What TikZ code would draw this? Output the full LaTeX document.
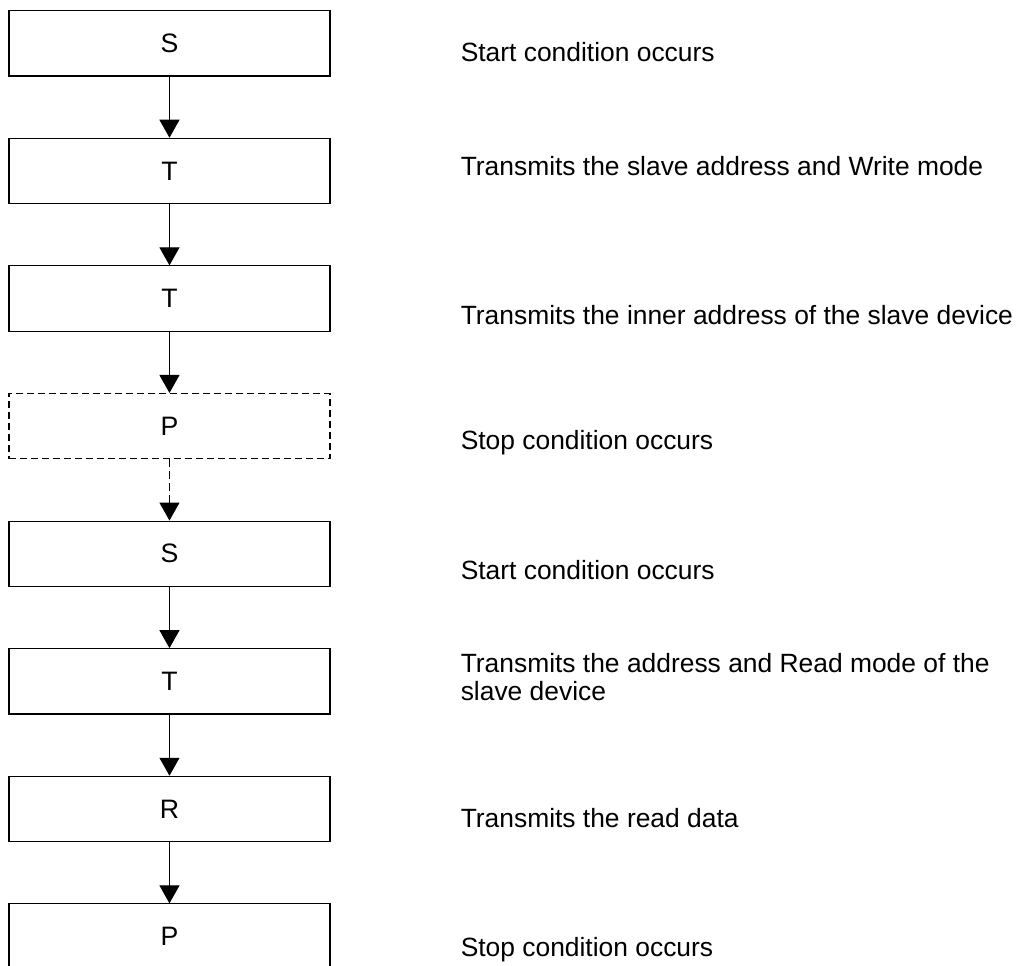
\documentclass[tikz,border=0pt]{standalone}
\usepackage{fontspec}
\setmainfont{Liberation Sans}
\usepackage{tikz}
\usetikzlibrary{arrows.meta, positioning}
\definecolor{seqline}{HTML}{000000}
\definecolor{seqfill}{HTML}{FFFFFF}
\tikzset{
  seqbox/.style  = {font=\fontsize{20pt}{20pt}\selectfont, align=center,
                    draw=seqline, fill=seqfill, line width=0.8pt,
                    minimum height=49pt, minimum width=240.75pt, inner sep=0pt},
  seqopt/.style  = {seqbox, dash pattern=on 5.25pt off 3pt},
  seqnote/.style = {font=\fontsize{19.8pt}{21pt}\selectfont, align=left,
                    inner sep=0pt, anchor=base west},
  flow/.style    = {-{Triangle[length=13.5pt, width=15pt]}, line width=0.8pt, draw=seqline},
  flowopt/.style = {flow, dash pattern=on 6pt off 3pt},
}
\begin{document}
\begin{tikzpicture}[node distance=45.9pt]
        \useasboundingbox (0,0) rectangle (765pt,-723.75pt);
        \node[seqbox] (start1) at (127.1pt,-32.5pt) {S};
        \node[seqbox, below=of start1] (addr1) {T};
        \node[seqbox, below=of addr1]  (inner) {T};
        \node[seqopt, below=of inner]  (stop1) {P};
        \node[seqbox, below=of stop1]  (start2) {S};
        \node[seqbox, below=of start2] (addr2) {T};
        \node[seqbox, below=of addr2]  (read)  {R};
        \node[seqbox, below=of read]   (stop2) {P};
        % descriptions
        \node[seqnote] (nstart1) at ([shift={(97.5pt,-13.3pt)}]start1.east) {Start condition occurs};
        \node[seqnote] (naddr1)  at ([shift={(97.5pt,-3.5pt)}]addr1.east)   {Transmits the slave address and Write mode};
        \node[seqnote] (ninner)  at ([shift={(97.5pt,-19.8pt)}]inner.east)  {Transmits the inner address of the slave device};
        \node[seqnote] (nstop1)  at ([shift={(97.5pt,-17.6pt)}]stop1.east)  {Stop condition occurs};
        \node[seqnote] (nstart2) at ([shift={(97.5pt,-19.3pt)}]start2.east) {Start condition occurs};
        \node[seqnote] (naddr2)  at ([shift={(97.5pt,-14.3pt)}]addr2.east)  {Transmits the address and Read mode of the\\slave device};
        \node[seqnote] (nread)   at ([shift={(97.5pt,-14.1pt)}]read.east)   {Transmits the read data};
        \node[seqnote] (nstop2)  at ([shift={(97.5pt,-14.8pt)}]stop2.east)  {Stop condition occurs};
        \draw[flow]    (start1) -- (addr1);
        \draw[flow]    (addr1)  -- (inner);
        \draw[flow]    (inner)  -- (stop1);
        \draw[flowopt] (stop1)  -- (start2);
        \draw[flow]    (start2) -- (addr2);
        \draw[flow]    (addr2)  -- (read);
        \draw[flow]    (read)   -- (stop2);
    \end{tikzpicture}
\end{document}
